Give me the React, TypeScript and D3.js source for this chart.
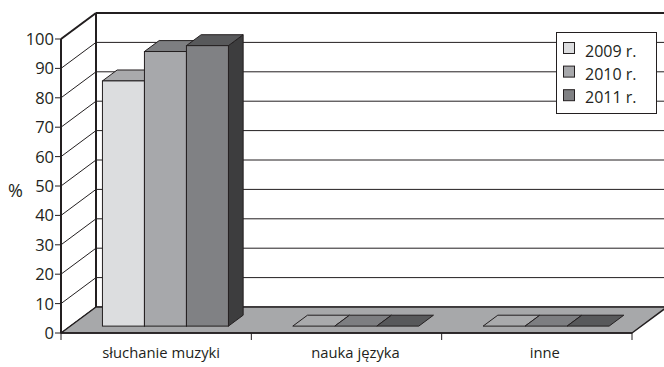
import React from "react";
import * as d3 from "d3";

const categories = ["słuchanie muzyki", "nauka języka", "inne"];
const seriesNames = ["2009 r.", "2010 r.", "2011 r."];
const values2009 = [83.4, 0, 0];
const values2010 = [93.4, 0, 0];
const values2011 = [95.4, 0, 0];
const yTicks = [0, 10, 20, 30, 40, 50, 60, 70, 80, 90, 100];
const yLabel = "%";

const frontColors = ["#dcdddf", "#a7a8ab", "#808184"];
const topColors = ["#a9aaac", "#7d7e81", "#58595b"];
const sideColors = ["#9a9b9d", "#6d6e71", "#3d3d3e"];

export default function App() {
  const W = 664, H = 367;
  const x0 = 61, x1 = 632;
  const DX = 35, DY = 26;
  const y = d3.scaleLinear().domain([0, 100]).range([333, 39]);
  const x = d3.scaleBand().domain(categories).range([x0, x1]).paddingInner(0).paddingOuter(0);
  const series = [values2009, values2010, values2011];
  const f0 = 0.265, f1 = 0.685;
  const barW = 42;
  const ink = "#231f20";
  const font = "'Open Sans', sans-serif";
  const labelShift = [5, 9, 8];

  const backRight = 700;
  const floor = `M${x0},${y(0)} L${x1},${y(0)} L${x1 + DX},${y(0) - DY} L${x0 + DX},${y(0) - DY} Z`;

  const bars: JSX.Element[] = [];
  categories.forEach((c, ci) => {
    const cx = (x(c) as number) + x.bandwidth() / 2;
    series.forEach((vals, si) => {
      const v = vals[ci];
      const ox = f0 * DX, oy = f0 * DY;
      const bx = cx - (barW * 3) / 2 + ox + si * barW;
      const by0 = y(0) - oy;
      const byTop = y(v) - oy;
      const ddx = (f1 - f0) * DX, ddy = (f1 - f0) * DY;
      const key = `${ci}-${si}`;
      const top = `M${bx},${byTop} L${bx + barW},${byTop} L${bx + barW + ddx},${byTop - ddy} L${bx + ddx},${byTop - ddy} Z`;
      if (v > 0) {
        const side = `M${bx + barW},${by0} L${bx + barW + ddx},${by0 - ddy} L${bx + barW + ddx},${byTop - ddy} L${bx + barW},${byTop} Z`;
        bars.push(
          <g key={key}>
            <path d={side} fill={sideColors[si]} stroke={ink} strokeWidth={1} strokeLinejoin="round" />
            <path d={top} fill={topColors[si]} stroke={ink} strokeWidth={1} strokeLinejoin="round" />
            <rect x={bx} y={byTop} width={barW} height={by0 - byTop} fill={frontColors[si]} stroke={ink} strokeWidth={1} />
          </g>
        );
      } else {
        bars.push(
          <path key={key} d={top} fill={topColors[si]} stroke={ink} strokeWidth={1} strokeLinejoin="round" />
        );
      }
    });
  });

  return (
    <svg width={W} height={H} style={{ position: "absolute", left: 0, top: 0, background: "#fff" }}>
      <defs>
        <clipPath id="clip">
          <rect x={0} y={0} width={W} height={H} />
        </clipPath>
      </defs>
      <g clipPath="url(#clip)">
        {yTicks.map((t) => (
          <line key={"bg" + t} x1={x0 + DX} x2={backRight} y1={y(t) - DY} y2={y(t) - DY} stroke={ink} strokeWidth={1} />
        ))}
        {yTicks.map((t) => (
          <line key={"sd" + t} x1={x0} y1={y(t)} x2={x0 + DX} y2={y(t) - DY} stroke={ink} strokeWidth={1} />
        ))}
        <path d={floor} fill="#a7a8aa" stroke={ink} strokeWidth={1.5} strokeLinejoin="round" />
        <line x1={x0 + DX} x2={x0 + DX} y1={y(100) - DY} y2={y(0) - DY} stroke={ink} strokeWidth={2} />
        <line x1={x0 + DX} x2={backRight} y1={y(100) - DY} y2={y(100) - DY} stroke={ink} strokeWidth={2} />
        <line x1={x0} y1={y(100)} x2={x0 + DX} y2={y(100) - DY} stroke={ink} strokeWidth={2} />
        {bars}
        <line x1={x0} x2={x0} y1={y(100)} y2={y(0)} stroke={ink} strokeWidth={2} />
        <line x1={x0} x2={x1} y1={y(0)} y2={y(0)} stroke={ink} strokeWidth={1.5} />
        {yTicks.map((t) => (
          <g key={"yt" + t}>
            <line x1={x0 - 6} x2={x0} y1={y(t)} y2={y(t)} stroke={ink} strokeWidth={1} />
            <text x={54} y={y(t)} dy="0.36em" textAnchor="end" fontFamily={font} fontSize={16.5} fill={ink}>{t}</text>
          </g>
        ))}
        {[x0, ...categories.map((c) => (x(c) as number) + x.bandwidth())].map((px, i) => (
          <line key={"xt" + i} x1={px} x2={px} y1={y(0)} y2={y(0) + 7} stroke={ink} strokeWidth={1} />
        ))}
        {categories.map((c, i) => (
          <text key={c} x={(x(c) as number) + x.bandwidth() / 2 + labelShift[i]} y={358} textAnchor="middle" fontFamily={font} fontSize={14.8} fill={ink}>{c}</text>
        ))}
        <text x={15.5} y={197} textAnchor="middle" fontFamily={font} fontSize={18} fill={ink}>{yLabel}</text>
        <rect x={556.5} y={32.5} width={100} height={81} fill="#fff" stroke={ink} strokeWidth={1} />
        {seriesNames.map((s, i) => (
          <g key={s}>
            <rect x={563.5} y={42.5 + i * 23.6} width={11} height={11} fill={frontColors[i]} stroke={ink} strokeWidth={1} />
            <text x={585} y={57.3 + i * 22.7} fontFamily={font} fontSize={16} fill={ink}>{s}</text>
          </g>
        ))}
      </g>
    </svg>
  );
}
